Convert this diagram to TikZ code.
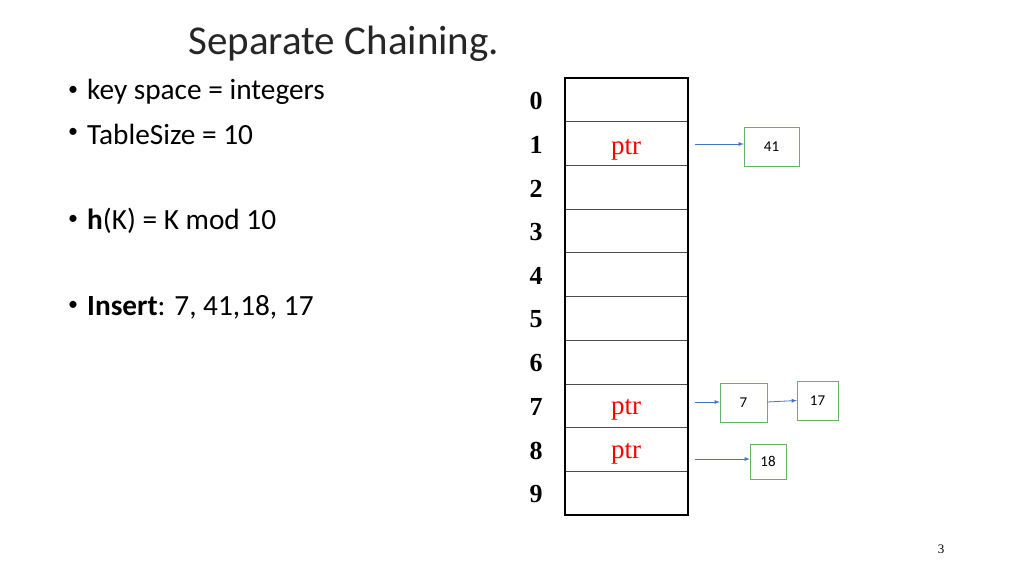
\documentclass[tikz,border=0pt]{standalone}
\usepackage{fontspec}
\setmainfont{Carlito}
\newfontfamily\serifb{Liberation Serif}
\begin{document}
\begin{tikzpicture}[x=1pt,y=-1pt,
  bul/.style={anchor=west,font=\fontsize{29.3}{33}\selectfont},
  idx/.style={font=\serifb\bfseries\fontsize{26}{30}\selectfont},
  ptrt/.style={font=\serifb\fontsize{27}{30}\selectfont,text=red},
  cell/.style={draw=black!70,line width=0.8pt,minimum width=123pt,minimum height=43.7pt,inner sep=0pt},
  lbox/.style={draw=green!50!black!60,fill=white,inner sep=0pt,font=\fontsize{15}{18}\selectfont},
  arr/.style={-latex,draw={rgb,255:red,68;green,114;blue,196},line width=0.8pt}]
\useasboundingbox (0,0) rectangle (1024,576);
\node[anchor=west,font=\fontsize{41}{46}\selectfont,text=black!85] (title) at (185,44) {Separate Chaining.};
\foreach \y/\t [count=\i] in {92/key space = integers,134/TableSize = 10,221/{\textbf{h}(K) = K mod 10},307/{\textbf{Insert}: 7, 41,18, 17}}{
  \node[font=\fontsize{20}{24}\selectfont] (d\i) at (73,\y-1) {\textbullet};
  \node[bul,inner sep=0pt] (b\i) at (87,\y) {\t};
}
\foreach \i in {0,...,9}{
  \node[cell] (c\i) at (626.5,{78+43.7*\i+21.85}) {};
  \node[idx] (n\i) at (536,{101+43.7*\i}) {\i};
}
\draw[line width=1.6pt] (565,78) rectangle (688,515);
\node[ptrt] (p1) at (626,150) {ptr};
\node[ptrt] (p7) at (626,410) {ptr};
\node[ptrt] (p8) at (626,454) {ptr};
\node[lbox,minimum width=55pt,minimum height=39pt] (k41) at (771.5,146.5) {41};
\node[lbox,minimum width=47pt,minimum height=39pt] (k7) at (743.5,402.5) {7};
\node[lbox,minimum width=41pt,minimum height=39pt] (k17) at (817.5,400.5) {17};
\node[lbox,minimum width=36pt,minimum height=35pt] (k18) at (768,461.5) {18};
\coordinate (s1) at (695,144);
\coordinate (s7) at (695,402);
\coordinate (s8) at (695,459);
\draw[arr] (s1) -- (k41.west |- s1);
\draw[arr] (s7) -- (k7.west |- s7);
\draw[arr] (k7.east |- s7) -- (k17.west);
\draw[arr] (s8) -- (k18.west |- s8);
\node[font=\serifb\fontsize{13}{15}\selectfont] (pg) at (941,549) {3};
\end{tikzpicture}
\end{document}
